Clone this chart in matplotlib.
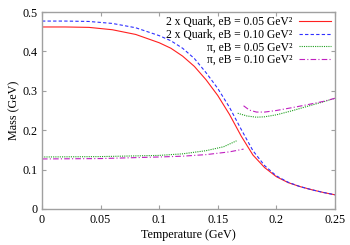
import matplotlib
matplotlib.use('Agg')
import matplotlib.pyplot as plt
import numpy as np

plt.rcParams['font.family'] = ['Liberation Serif', 'DejaVu Serif']
plt.rcParams['font.size'] = 8.7

# quark masses (x2)
T_q = [0, 0.02, 0.04, 0.06, 0.08, 0.10, 0.11, 0.12, 0.13, 0.14, 0.15, 0.16,
       0.17, 0.18, 0.19, 0.20, 0.21, 0.22, 0.23, 0.24, 0.25]
quark_005 = [0.462, 0.462, 0.461, 0.455, 0.443, 0.422, 0.408, 0.388, 0.362, 0.328,
             0.288, 0.240, 0.185, 0.137, 0.105, 0.082, 0.067, 0.057, 0.049, 0.042, 0.036]
quark_010 = [0.477, 0.477, 0.476, 0.471, 0.460, 0.440, 0.427, 0.408, 0.382, 0.346,
             0.306, 0.258, 0.202, 0.148, 0.110, 0.084, 0.068, 0.057, 0.049, 0.042, 0.036]

# pion masses, two branches each
T_pi_lo_005 = [0, 0.05, 0.10, 0.12, 0.14, 0.155, 0.166]
pi_lo_005 = [0.132, 0.133, 0.136, 0.140, 0.148, 0.158, 0.173]
T_pi_hi_005 = [0.167, 0.175, 0.183, 0.19, 0.20, 0.213, 0.227, 0.24, 0.25]
pi_hi_005 = [0.243, 0.236, 0.233, 0.234, 0.239, 0.249, 0.261, 0.272, 0.281]

T_pi_lo_010 = [0, 0.05, 0.10, 0.12, 0.14, 0.16, 0.172]
pi_lo_010 = [0.127, 0.128, 0.132, 0.134, 0.138, 0.145, 0.152]
T_pi_hi_010 = [0.172, 0.177, 0.183, 0.19, 0.20, 0.213, 0.227, 0.24, 0.25]
pi_hi_010 = [0.262, 0.251, 0.246, 0.246, 0.250, 0.257, 0.265, 0.273, 0.281]

fig = plt.figure(figsize=(3.5, 2.45), dpi=100)
ax = fig.add_axes([0.12, 0.147, 0.837, 0.804])

lw = 0.8
ax.plot(T_q, quark_005, color='#ff2020', lw=lw, label='2 x Quark, eB = 0.05 GeV²')
ax.plot(T_q, quark_010, color='#3030ff', lw=lw, ls=(0, (3, 2)), label='2 x Quark, eB = 0.10 GeV²')
ax.plot(T_pi_lo_005, pi_lo_005, color='#20a020', lw=lw, ls=(0, (1, 1)), label='π, eB = 0.05 GeV²')
ax.plot(T_pi_hi_005, pi_hi_005, color='#20a020', lw=lw, ls=(0, (1, 1)))
ax.plot(T_pi_lo_010, pi_lo_010, color='#c020c0', lw=lw, ls=(0, (5, 2, 1, 2)), label='π, eB = 0.10 GeV²')
ax.plot(T_pi_hi_010, pi_hi_010, color='#c020c0', lw=lw, ls=(0, (5, 2, 1, 2)))

ax.set_xlim(0, 0.25)
ax.set_ylim(0, 0.5)
ax.set_xticks([0, 0.05, 0.1, 0.15, 0.2, 0.25])
ax.set_xticklabels(['0', '0.05', '0.1', '0.15', '0.2', '0.25'])
ax.set_yticks([0, 0.1, 0.2, 0.3, 0.4, 0.5])
ax.set_yticklabels(['0', '0.1', '0.2', '0.3', '0.4', '0.5'])
ax.tick_params(direction='in', top=True, right=True, length=3, color='#a0a0a0', width=0.8)
for s in ax.spines.values():
    s.set_color('#a0a0a0')
    s.set_linewidth(1.0)

ax.set_xlabel('Temperature (GeV)', labelpad=2)
ax.set_ylabel('Mass (GeV)', labelpad=1)

ax.legend(loc='upper right', frameon=False, markerfirst=False, handlelength=2.7,
          handletextpad=0.6, labelspacing=0.05, borderaxespad=0.25, borderpad=0.1,
          fontsize=8.4)

fig.savefig('out.png')
